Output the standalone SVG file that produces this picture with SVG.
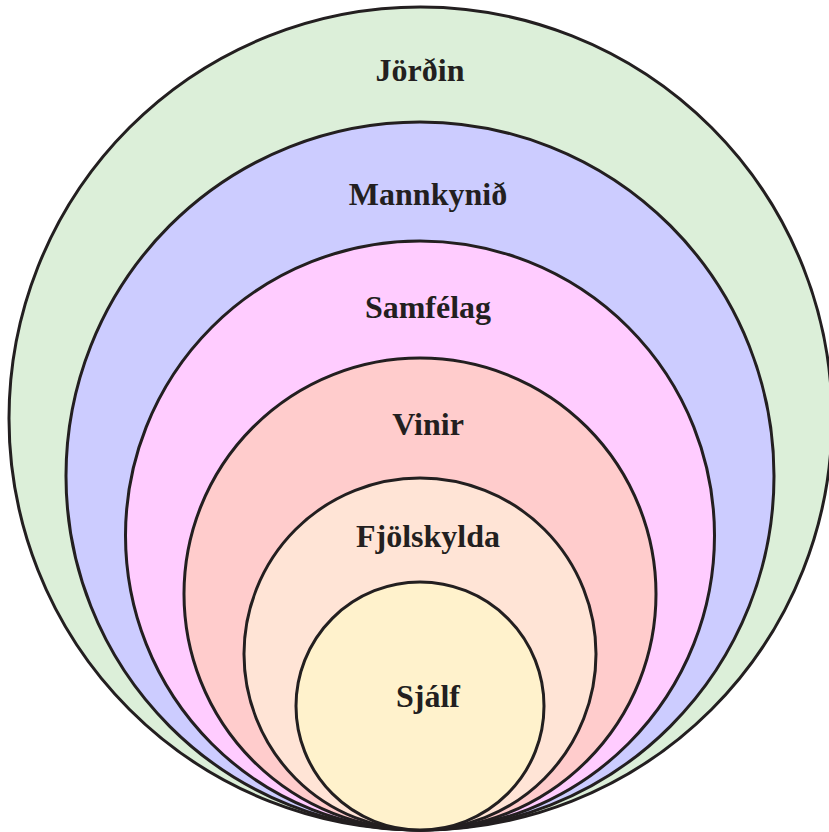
<svg xmlns="http://www.w3.org/2000/svg" width="829" height="832" viewBox="0 0 829 832">
<style>
.c{stroke:#231f20;stroke-width:3}
.t{font-family:"Liberation Serif","Times New Roman",serif;font-weight:bold;font-size:32px;fill:#231f20;text-anchor:middle}
</style>
<rect width="829" height="832" fill="#ffffff"/>
<g id="jordin"><circle class="c" cx="420.5" cy="418.5" r="411.5" fill="#dcefd9"/><text class="t" x="420" y="81">Jörðin</text></g>
<g id="mannkynid"><circle class="c" cx="420" cy="476" r="354" fill="#ccccff"/><text class="t" x="428" y="205">Mannkynið</text></g>
<g id="samfelag"><circle class="c" cx="420" cy="535.5" r="294.5" fill="#ffccff"/><text class="t" x="428" y="318">Samfélag</text></g>
<g id="vinir"><circle class="c" cx="420" cy="594" r="236" fill="#ffcccc"/><text class="t" x="428" y="435">Vinir</text></g>
<g id="fjolskylda"><circle class="c" cx="420" cy="654" r="176" fill="#ffe4d6"/><text class="t" x="428" y="547">Fjölskylda</text></g>
<g id="sjalf"><circle class="c" cx="420" cy="706" r="124" fill="#fff2cc"/><text class="t" x="428" y="707">Sjálf</text></g>
<g id="connectors"/>
</svg>
